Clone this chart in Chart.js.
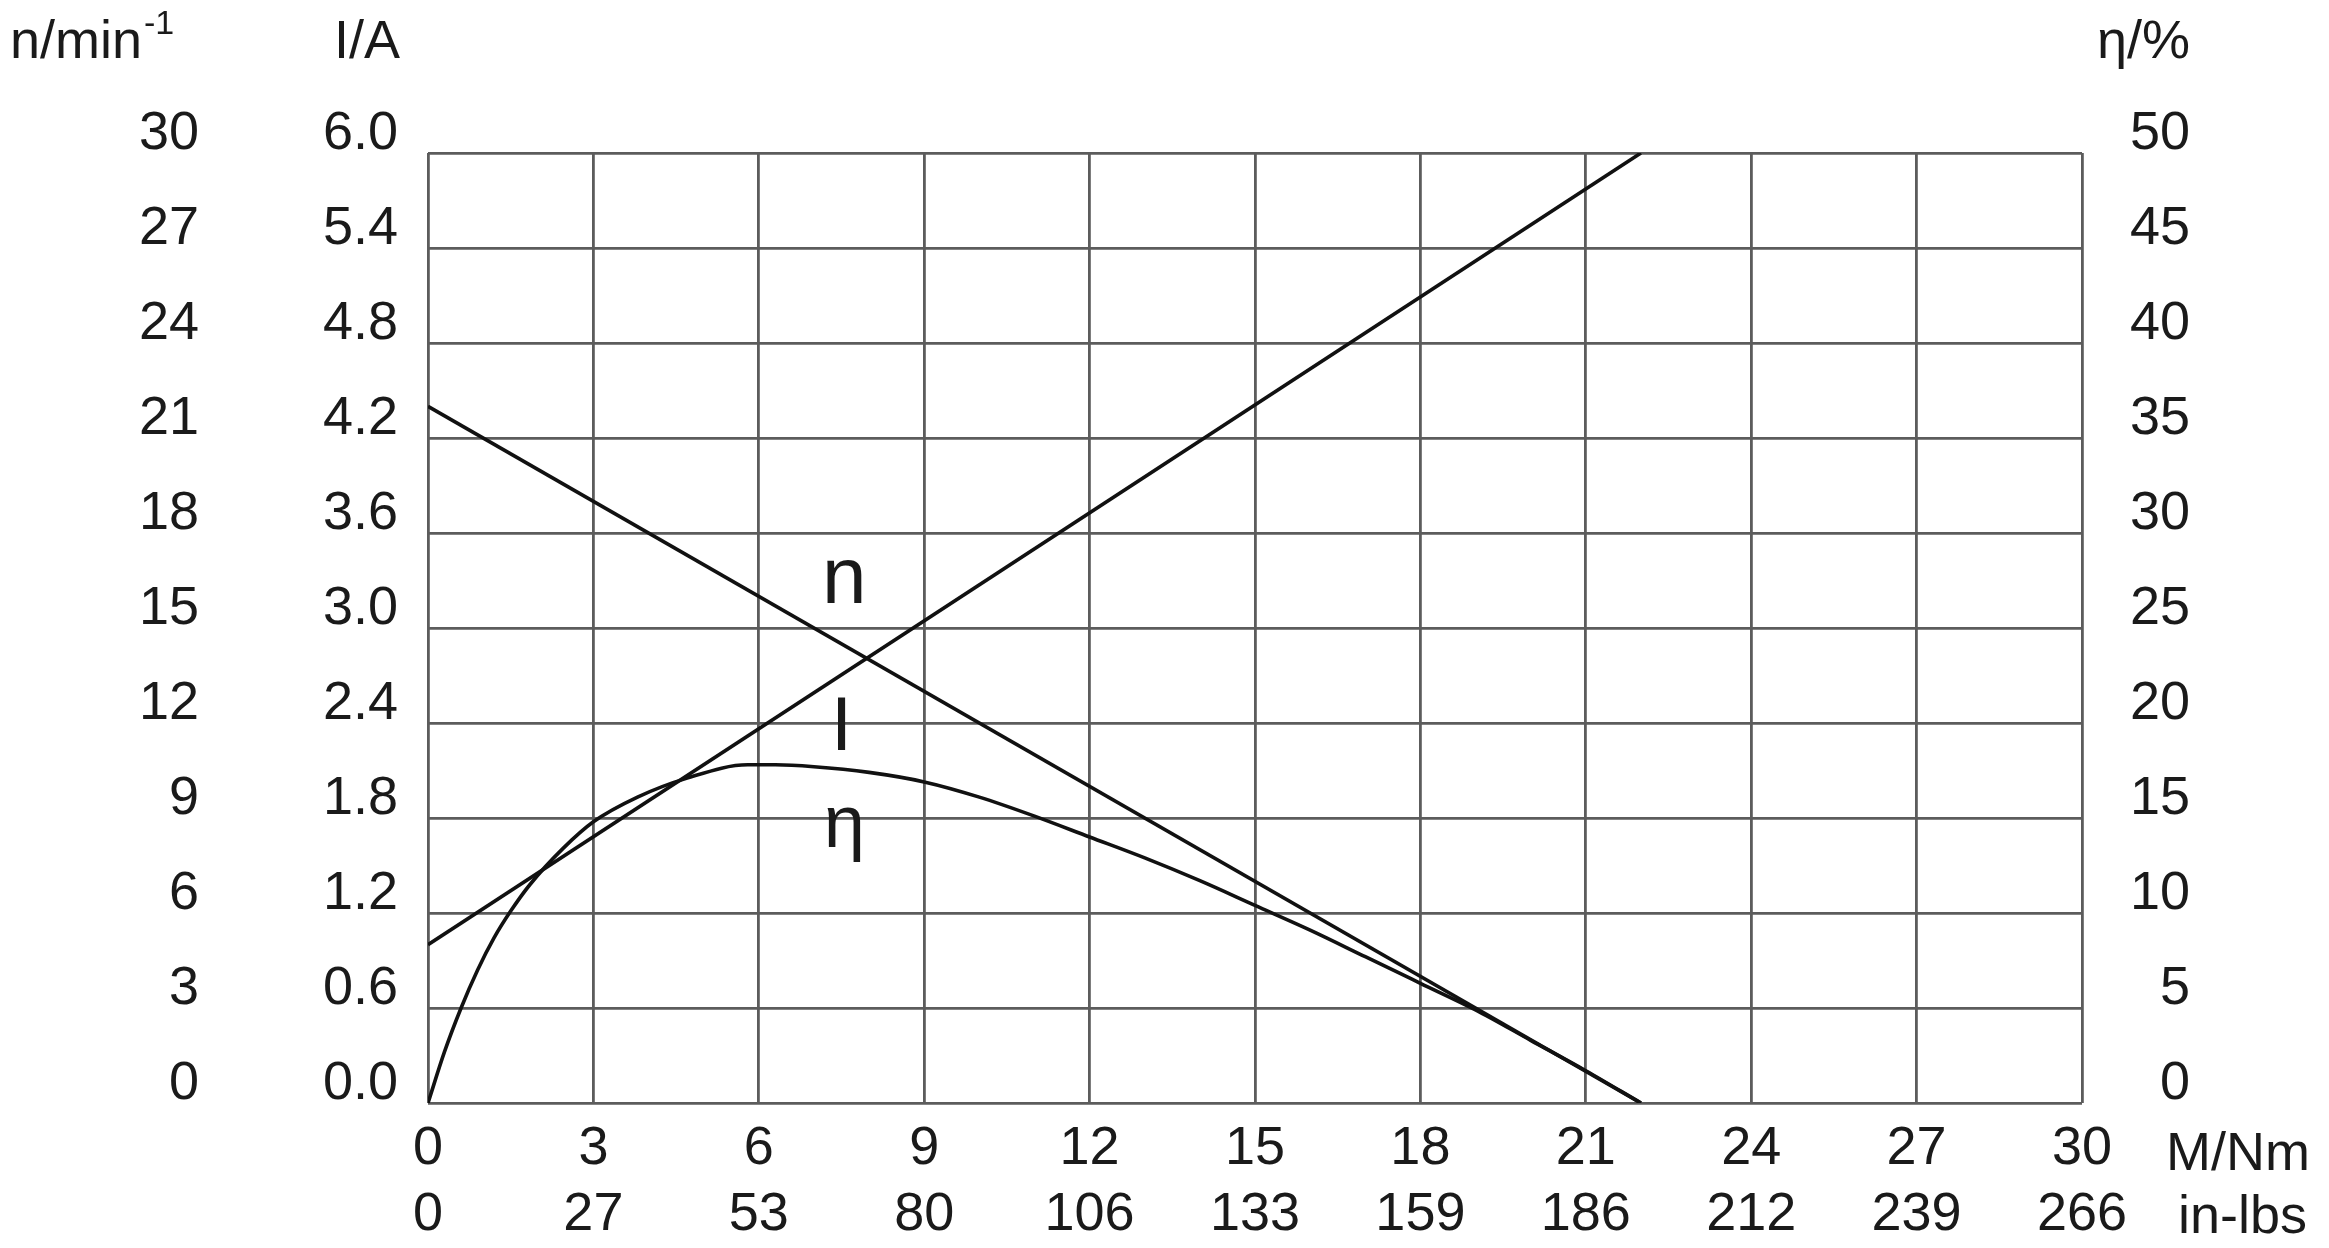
<!doctype html>
<html>
  <head>
    <meta charset="utf-8">
    <title>Motor characteristic curves</title>
    <style>
      html, body {
        margin: 0;
        background: #fff;
      }
      #wrap {
        width: 2329px;
        height: 1248px;
      }
    </style>
  </head>
  <body>
    <div id="wrap"><canvas id="canvas" width="2329" height="1248"></canvas></div>

    <script src="https://cdn.jsdelivr.net/npm/chart.js@4.4.1/dist/chart.umd.min.js"></script>
    <script>
      // readings taken off the datasheet (torque in N·m)
      var speedTorque = [0, 22]
      var speedValues = [22, 0]

      var currentTorque = [0, 22]
      var currentValues = [1.0, 6.0]

      var effTorque = [0, 0.3, 0.6, 0.9, 1.2, 1.5, 1.85, 2.45, 3, 3.8, 4.7, 5.8, 6.3, 7, 8, 9, 10, 11, 12, 13, 14, 15, 16, 17, 18, 19, 20, 21, 22]
      var effValues = [0, 2.7, 5.0, 7.0, 8.7, 10.1, 11.5, 13.4, 14.8, 16.1, 17.1, 17.8, 17.8, 17.7, 17.4, 16.9, 16.1, 15.1, 14.0, 12.9, 11.7, 10.4, 9.1, 7.7, 6.3, 4.9, 3.3, 1.7, 0]

      var inLbsLabels = ['0', '27', '53', '80', '106', '133', '159', '186', '212', '239', '266']

      var ink = '#1a1a1a'
      var gridColor = '#5c5c5c'
      var tickFont = { family: '"Liberation Sans", Arial, sans-serif', size: 54 }

      var toPoints = function(xs, ys) {
        return xs.map(function(x, i) { return { x: x, y: ys[i] } })
      }

      var curve = function(points, axis) {
        return {
          data: points,
          yAxisID: axis,
          borderColor: '#111',
          borderWidth: 3.6,
          pointRadius: 0,
          fill: false
        }
      }

      // axis titles and curve names
      var labelsPlugin = {
        id: 'labels',
        afterDraw: function(chart) {
          var ctx = chart.ctx
          var fam = '"Liberation Sans", Arial, sans-serif'
          var sx = chart.scales.x
          var sy = chart.scales.yI
          ctx.save()
          ctx.fillStyle = ink
          ctx.textBaseline = 'alphabetic'

          ctx.font = '54px ' + fam
          ctx.textAlign = 'left'
          ctx.fillText('n/min', 10, 58)
          var w = ctx.measureText('n/min').width
          ctx.font = '34px ' + fam
          ctx.fillText('-1', 10 + w + 2, 34)

          ctx.font = '54px ' + fam
          ctx.textAlign = 'right'
          ctx.fillText('I/A', 400, 58)
          ctx.fillText('\u03b7/%', 2190, 58)

          ctx.textAlign = 'left'
          ctx.fillText('M/Nm', 2166, 1170)
          ctx.fillText('in-lbs', 2178, 1233)

          ctx.textAlign = 'center'
          ctx.font = '80px ' + fam
          ctx.fillText('n', sx.getPixelForValue(7.55), sy.getPixelForValue(3.16))
          ctx.font = '76px ' + fam
          ctx.fillText('I', sx.getPixelForValue(7.5), sy.getPixelForValue(2.23))
          ctx.font = '74px ' + fam
          ctx.fillText('\u03b7', sx.getPixelForValue(7.55), sy.getPixelForValue(1.62))
          ctx.restore()
        }
      }

      var ctx = document.getElementById('canvas').getContext('2d')
      window.my_chart = new Chart(ctx, {
        type: 'line',
        data: {
          datasets: [
            curve(toPoints(speedTorque, speedValues), 'yN'),
            curve(toPoints(currentTorque, currentValues), 'yI'),
            Object.assign(curve(toPoints(effTorque, effValues), 'yE'), { cubicInterpolationMode: 'monotone' })
          ]
        },
        options: {
          responsive: false,
          animation: false,
          devicePixelRatio: 1,
          layout: {
            padding: { top: 153, right: 139, left: 0, bottom: 0 }
          },
          plugins: {
            legend: { display: false },
            tooltip: { enabled: false }
          },
          scales: {
            x: {
              type: 'linear',
              position: 'bottom',
              weight: 0,
              min: 0,
              max: 30,
              afterFit: function(s) { s.height = 75 },
              ticks: { stepSize: 3, font: tickFont, color: ink, padding: 14, maxRotation: 0 },
              grid: { color: gridColor, lineWidth: 2.8, drawTicks: false },
              border: { display: false }
            },
            xIn: {
              type: 'linear',
              position: 'bottom',
              weight: 1,
              min: 0,
              max: 30,
              afterFit: function(s) { s.height = 70 },
              ticks: {
                stepSize: 3, font: tickFont, color: ink, padding: 5, maxRotation: 0,
                callback: function(v, i) { return inLbsLabels[i] }
              },
              grid: { display: false, drawTicks: false },
              border: { display: false }
            },
            yI: {
              type: 'linear',
              position: 'left',
              weight: 0,
              min: 0,
              max: 6,
              afterFit: function(s) { s.width = 208 },
              ticks: {
                stepSize: 0.6, font: tickFont, color: ink, padding: 30, labelOffset: -19,
                callback: function(v) { return v.toFixed(1) }
              },
              grid: { color: gridColor, lineWidth: 2.8, drawTicks: false },
              border: { display: false }
            },
            yN: {
              type: 'linear',
              position: 'left',
              weight: 1,
              min: 0,
              max: 30,
              afterFit: function(s) { s.width = 220 },
              ticks: { stepSize: 3, font: tickFont, color: ink, padding: 21, labelOffset: -19 },
              grid: { display: false, drawTicks: false },
              border: { display: false }
            },
            yE: {
              type: 'linear',
              position: 'right',
              min: 0,
              max: 50,
              afterFit: function(s) { s.width = 108 },
              ticks: { stepSize: 5, font: tickFont, color: ink, crossAlign: 'far', labelOffset: -19 },
              grid: { display: false, drawTicks: false },
              border: { display: false }
            }
          }
        },
        plugins: [labelsPlugin]
      })
    </script>
  </body>
</html>
